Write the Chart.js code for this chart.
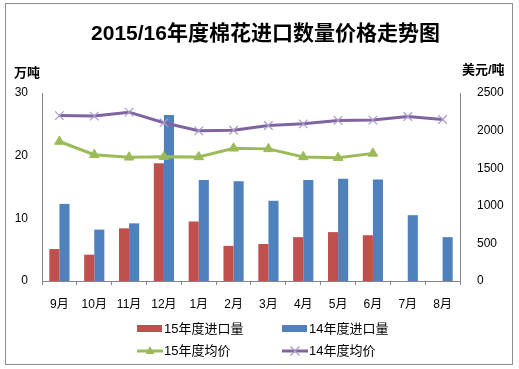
<!DOCTYPE html>
<html>
<head>
<meta charset="utf-8">
<script src="https://cdn.jsdelivr.net/npm/chart.js@4.4.0/dist/chart.umd.min.js"></script>
<style>
  html, body { margin: 0; padding: 0; background: #fff; }
  #wrap { position: relative; width: 519px; height: 369px; overflow: hidden; font-family: "Liberation Sans", "Noto Sans CJK SC", sans-serif; }
  #frame { position: absolute; left: 5px; top: 3px; width: 508px; height: 362px; border: 1px solid #8c8c8c; box-sizing: border-box; }
  #title { position: absolute; left: 6px; width: 519px; top: 19px; text-align: center; font-size: 21px; font-weight: bold; color: #000; line-height: 28px; }
  .unit { position: absolute; font-size: 13px; font-weight: bold; color: #000; line-height: 16px; }
  .leg { position: absolute; font-size: 13px; color: #000; line-height: 16px; white-space: nowrap; }
  .sw { display: inline-block; vertical-align: middle; }
  canvas { position: absolute; left: 0; top: 0; }
</style>
</head>
<body>
<div id="wrap">
  <div id="frame"></div>
  <canvas id="c" width="519" height="369"></canvas>
  <div id="title">2015/16年度棉花进口数量价格走势图</div>
  <div class="unit" style="left:14px; top:65px;">万吨</div>
  <div class="unit" style="left:462px; top:62px;">美元/吨</div>
  <div id="legend"></div>
</div>
<script>
const months = ["9月","10月","11月","12月","1月","2月","3月","4月","5月","6月","7月","8月"];
const import15 = [5.1, 4.2, 8.4, 18.8, 9.5, 5.6, 5.9, 7.0, 7.8, 7.3, null, null];
const import14 = [12.3, 8.2, 9.2, 26.5, 16.1, 15.9, 12.8, 16.1, 16.3, 16.2, 10.5, 7.0];
const price15 = [1855, 1680, 1645, 1653, 1650, 1765, 1757, 1650, 1640, 1697, null, null];
const price14 = [2200, 2193, 2245, 2105, 1997, 2005, 2068, 2090, 2135, 2140, 2188, 2148];
const leftTicks = [0, 10, 20, 30];
const rightTicks = [0, 500, 1000, 1500, 2000, 2500];
const seriesNames = ["15年度进口量", "14年度进口量", "15年度均价", "14年度均价"];

const RED = "#C0504D", BLUE = "#4F81BD", GREEN = "#9BBB59", PURPLE = "#8064A2";
const AXIS = "#868686";
const tickFont = { family: "'Liberation Sans', 'Noto Sans CJK SC', sans-serif", size: 12 };

new Chart(document.getElementById("c"), {
  data: {
    labels: months,
    datasets: [
      { type: "bar", label: seriesNames[0], data: import15, backgroundColor: RED, yAxisID: "y", order: 2, categoryPercentage: 0.58, barPercentage: 1.0 },
      { type: "bar", label: seriesNames[1], data: import14, backgroundColor: BLUE, yAxisID: "y", order: 2, categoryPercentage: 0.58, barPercentage: 1.0 },
      { type: "line", label: seriesNames[2], data: price15, borderColor: GREEN, backgroundColor: GREEN, borderWidth: 3, pointStyle: "triangle", pointRadius: 5.5, pointBackgroundColor: GREEN, pointBorderColor: GREEN, pointBorderWidth: 1, yAxisID: "y1", order: 0, tension: 0, spanGaps: false },
      { type: "line", label: seriesNames[3], data: price14, borderColor: PURPLE, backgroundColor: PURPLE, borderWidth: 3, pointStyle: "crossRot", pointRadius: 6, pointBorderColor: "#A99BC6", pointBorderWidth: 1.2, yAxisID: "y1", order: 1, tension: 0 }
    ]
  },
  options: {
    responsive: false,
    animation: false,
    layout: { padding: { left: 0, right: 0, top: 93, bottom: 58 } },
    plugins: { legend: { display: false }, tooltip: { enabled: false }, title: { display: false } },
    scales: {
      x: {
        offset: true,
        grid: { display: true, drawOnChartArea: false, drawTicks: true, tickLength: 4, color: AXIS, offset: true },
        border: { display: true, color: AXIS, width: 1 },
        ticks: { color: "#000", font: tickFont, padding: 12, maxRotation: 0, autoSkip: false },
        afterFit: s => { s.height = 30; }
      },
      y: {
        position: "left", min: 0, max: 30,
        afterBuildTicks: s => { s.ticks = leftTicks.map(v => ({ value: v })); },
        grid: { display: false, drawTicks: false },
        border: { display: true, color: AXIS, width: 1 },
        ticks: { color: "#000", font: tickFont, padding: 14, callback: v => String(v) },
        afterFit: s => { s.width = 42; }
      },
      y1: {
        position: "right", min: 0, max: 2500,
        afterBuildTicks: s => { s.ticks = rightTicks.map(v => ({ value: v })); },
        grid: { display: false, drawTicks: false },
        border: { display: true, color: AXIS, width: 1 },
        ticks: { color: "#000", font: tickFont, padding: 17, callback: v => String(v) },
        afterFit: s => { s.width = 59; }
      }
    }
  }
});

// HTML legend built from the series names
const legendItems = [
  { name: seriesNames[0], kind: "bar", color: RED, x: 137, y: 321 },
  { name: seriesNames[1], kind: "bar", color: BLUE, x: 282, y: 321 },
  { name: seriesNames[2], kind: "tri", color: GREEN, x: 137, y: 343 },
  { name: seriesNames[3], kind: "x", color: PURPLE, x: 282, y: 343 }
];
const legend = document.getElementById("legend");
legendItems.forEach(it => {
  const d = document.createElement("div");
  d.className = "leg";
  d.style.left = it.x + "px";
  d.style.top = it.y + "px";
  let sw;
  if (it.kind === "bar") {
    sw = `<span class="sw" style="width:25px;height:7px;background:${it.color};margin-right:2px;margin-top:-2px"></span>`;
  } else if (it.kind === "tri") {
    sw = `<svg class="sw" width="26" height="12" style="margin-right:1px;margin-top:-2px"><line x1="0" y1="6" x2="26" y2="6" stroke="${it.color}" stroke-width="3"/><polygon points="13,1 17.5,9 8.5,9" fill="${it.color}"/></svg>`;
  } else {
    sw = `<svg class="sw" width="26" height="12" style="margin-right:1px;margin-top:-2px"><line x1="0" y1="6" x2="26" y2="6" stroke="${it.color}" stroke-width="3"/><line x1="8.5" y1="1.5" x2="17.5" y2="10.5" stroke="#A99BC6" stroke-width="1.2"/><line x1="17.5" y1="1.5" x2="8.5" y2="10.5" stroke="#A99BC6" stroke-width="1.2"/></svg>`;
  }
  d.innerHTML = sw + it.name;
  legend.appendChild(d);
});
</script>
</body>
</html>
